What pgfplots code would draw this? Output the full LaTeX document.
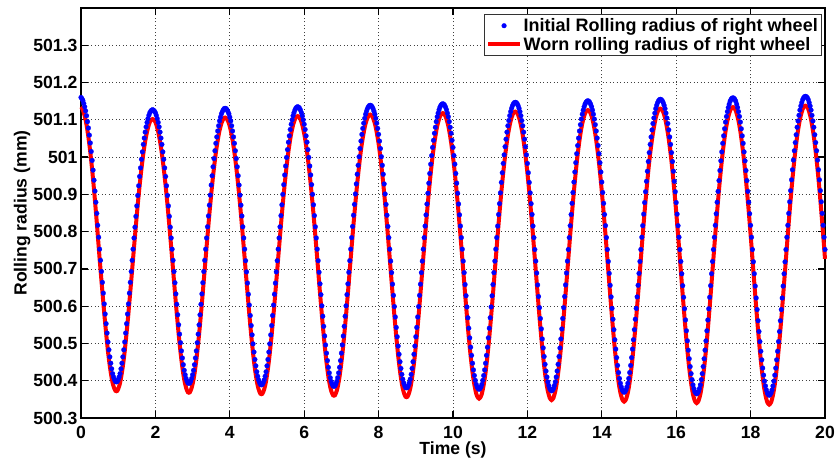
\documentclass[border=0pt]{standalone}
\usepackage{fontspec}
\setmainfont{Liberation Sans}
\usepackage{pgfplots}
\usepackage{pgfplotstable}
\pgfplotsset{compat=1.18}
\newcommand\tickfont{\fontsize{17.6}{21}\selectfont\bfseries}
\newcommand\legfont{\fontsize{18}{21.5}\selectfont\bfseries}

% t = time (s), b = initial radius (mm), r = worn radius (mm)
\pgfplotstableread[row sep=\\]{
t b r\\
0 501.160 501.135\\ 0.025 501.157 501.132\\ 0.05 501.152 501.127\\ 0.075 501.144 501.119\\ 0.1 501.135 501.110\\
0.125 501.124 501.099\\ 0.15 501.111 501.086\\ 0.175 501.095 501.070\\ 0.2 501.078 501.053\\ 0.225 501.059 501.034\\
0.25 501.038 501.013\\ 0.275 501.015 500.990\\ 0.3 500.991 500.966\\ 0.325 500.965 500.940\\ 0.35 500.938 500.913\\
0.375 500.909 500.884\\ 0.4 500.879 500.854\\ 0.425 500.849 500.824\\ 0.45 500.817 500.792\\ 0.475 500.785 500.760\\
0.5 500.753 500.728\\ 0.525 500.723 500.698\\ 0.55 500.693 500.668\\ 0.575 500.664 500.639\\ 0.6 500.635 500.610\\
0.625 500.606 500.581\\ 0.65 500.579 500.554\\ 0.675 500.553 500.528\\ 0.7 500.528 500.503\\ 0.725 500.504 500.479\\
0.75 500.483 500.458\\ 0.775 500.464 500.439\\ 0.8 500.447 500.422\\ 0.825 500.432 500.407\\ 0.85 500.419 500.394\\
0.875 500.410 500.385\\ 0.9 500.403 500.378\\ 0.925 500.398 500.373\\ 0.95 500.397 500.372\\ 0.975 500.398 500.373\\
1.0 500.403 500.378\\ 1.025 500.410 500.385\\ 1.05 500.419 500.394\\ 1.075 500.432 500.407\\ 1.1 500.447 500.422\\
1.125 500.464 500.439\\ 1.15 500.483 500.458\\ 1.175 500.504 500.479\\ 1.2 500.528 500.503\\ 1.225 500.553 500.528\\
1.25 500.579 500.554\\ 1.275 500.606 500.581\\ 1.3 500.635 500.610\\ 1.325 500.664 500.639\\ 1.35 500.693 500.668\\
1.375 500.723 500.698\\ 1.4 500.753 500.728\\
1.425 500.783 500.758\\ 1.45 500.812 500.787\\ 1.475 500.841 500.816\\ 1.5 500.869 500.844\\ 1.525 500.897 500.872\\
1.55 500.923 500.898\\ 1.575 500.948 500.923\\ 1.6 500.971 500.946\\ 1.625 500.994 500.969\\ 1.65 501.014 500.989\\
1.675 501.034 501.009\\ 1.7 501.051 501.026\\ 1.725 501.067 501.042\\ 1.75 501.081 501.056\\ 1.775 501.093 501.068\\
1.8 501.103 501.078\\ 1.825 501.112 501.087\\ 1.85 501.119 501.094\\ 1.875 501.123 501.098\\ 1.9 501.126 501.101\\
1.925 501.127 501.102\\ 1.95 501.126 501.101\\ 1.975 501.123 501.098\\ 2.0 501.119 501.094\\ 2.025 501.112 501.087\\
2.05 501.103 501.078\\ 2.075 501.093 501.068\\ 2.1 501.081 501.056\\ 2.125 501.067 501.042\\ 2.15 501.051 501.026\\
2.175 501.034 501.009\\ 2.2 501.014 500.989\\ 2.225 500.994 500.969\\ 2.25 500.971 500.946\\ 2.275 500.948 500.923\\
2.3 500.923 500.898\\ 2.325 500.897 500.872\\ 2.35 500.869 500.844\\ 2.375 500.841 500.816\\ 2.4 500.812 500.787\\
2.425 500.783 500.758\\
2.45 500.753 500.728\\ 2.475 500.723 500.698\\ 2.5 500.693 500.668\\ 2.525 500.663 500.638\\ 2.55 500.633 500.608\\
2.575 500.605 500.580\\ 2.6 500.577 500.552\\ 2.625 500.550 500.525\\ 2.65 500.525 500.500\\ 2.675 500.502 500.477\\
2.7 500.480 500.455\\ 2.725 500.461 500.436\\ 2.75 500.443 500.418\\ 2.775 500.428 500.403\\ 2.8 500.416 500.391\\
2.825 500.406 500.381\\ 2.85 500.399 500.374\\ 2.875 500.394 500.369\\ 2.9 500.393 500.368\\ 2.925 500.394 500.369\\
2.95 500.399 500.374\\ 2.975 500.406 500.381\\ 3.0 500.416 500.391\\ 3.025 500.428 500.403\\ 3.05 500.443 500.418\\
3.075 500.461 500.436\\ 3.1 500.480 500.455\\ 3.125 500.502 500.477\\ 3.15 500.525 500.500\\ 3.175 500.550 500.525\\
3.2 500.577 500.552\\ 3.225 500.605 500.580\\ 3.25 500.633 500.608\\ 3.275 500.663 500.638\\ 3.3 500.693 500.668\\
3.325 500.723 500.698\\ 3.35 500.753 500.728\\
3.375 500.783 500.758\\ 3.4 500.813 500.788\\ 3.425 500.842 500.817\\ 3.45 500.871 500.846\\ 3.475 500.898 500.873\\
3.5 500.925 500.900\\ 3.525 500.950 500.925\\ 3.55 500.974 500.949\\ 3.575 500.996 500.971\\ 3.6 501.017 500.992\\
3.625 501.037 501.012\\ 3.65 501.054 501.029\\ 3.675 501.070 501.045\\ 3.7 501.084 501.059\\ 3.725 501.097 501.072\\
3.75 501.107 501.082\\ 3.775 501.116 501.091\\ 3.8 501.122 501.097\\ 3.825 501.127 501.102\\ 3.85 501.130 501.105\\
3.875 501.131 501.106\\ 3.9 501.130 501.105\\ 3.925 501.127 501.102\\ 3.95 501.122 501.097\\ 3.975 501.116 501.091\\
4.0 501.107 501.082\\ 4.025 501.097 501.072\\ 4.05 501.084 501.059\\ 4.075 501.070 501.045\\ 4.1 501.054 501.029\\
4.125 501.037 501.012\\ 4.15 501.017 500.992\\ 4.175 500.996 500.971\\ 4.2 500.974 500.949\\ 4.225 500.950 500.925\\
4.25 500.925 500.900\\ 4.275 500.898 500.873\\ 4.3 500.871 500.846\\ 4.325 500.842 500.817\\ 4.35 500.813 500.788\\
4.375 500.783 500.758\\
4.4 500.753 500.728\\ 4.425 500.722 500.697\\ 4.45 500.692 500.667\\ 4.475 500.662 500.637\\ 4.5 500.632 500.607\\
4.525 500.603 500.578\\ 4.55 500.575 500.550\\ 4.575 500.548 500.523\\ 4.6 500.523 500.498\\ 4.625 500.499 500.474\\
4.65 500.477 500.452\\ 4.675 500.457 500.432\\ 4.7 500.440 500.415\\ 4.725 500.424 500.399\\ 4.75 500.412 500.387\\
4.775 500.402 500.377\\ 4.8 500.395 500.370\\ 4.825 500.390 500.365\\ 4.85 500.389 500.364\\ 4.875 500.390 500.365\\
4.9 500.395 500.370\\ 4.925 500.402 500.377\\ 4.95 500.412 500.387\\ 4.975 500.424 500.399\\ 5.0 500.440 500.415\\
5.025 500.457 500.432\\ 5.05 500.477 500.452\\ 5.075 500.499 500.474\\ 5.1 500.523 500.498\\ 5.125 500.548 500.523\\
5.15 500.575 500.550\\ 5.175 500.603 500.578\\ 5.2 500.632 500.607\\ 5.225 500.662 500.637\\ 5.25 500.692 500.667\\
5.275 500.722 500.697\\ 5.3 500.753 500.728\\
5.325 500.783 500.758\\ 5.35 500.813 500.788\\ 5.375 500.843 500.818\\ 5.4 500.872 500.847\\ 5.425 500.900 500.875\\
5.45 500.926 500.901\\ 5.475 500.952 500.927\\ 5.5 500.976 500.951\\ 5.525 500.999 500.974\\ 5.55 501.020 500.995\\
5.575 501.040 501.015\\ 5.6 501.057 501.032\\ 5.625 501.074 501.049\\ 5.65 501.088 501.063\\ 5.675 501.100 501.075\\
5.7 501.111 501.086\\ 5.725 501.119 501.094\\ 5.75 501.126 501.101\\ 5.775 501.131 501.106\\ 5.8 501.134 501.109\\
5.825 501.135 501.110\\ 5.85 501.134 501.109\\ 5.875 501.131 501.106\\ 5.9 501.126 501.101\\ 5.925 501.119 501.094\\
5.95 501.111 501.086\\ 5.975 501.100 501.075\\ 6.0 501.088 501.063\\ 6.025 501.074 501.049\\ 6.05 501.057 501.032\\
6.075 501.040 501.015\\ 6.1 501.020 500.995\\ 6.125 500.999 500.974\\ 6.15 500.976 500.951\\ 6.175 500.952 500.927\\
6.2 500.926 500.901\\ 6.225 500.900 500.875\\ 6.25 500.872 500.847\\ 6.275 500.843 500.818\\ 6.3 500.813 500.788\\
6.325 500.783 500.758\\
6.35 500.753 500.728\\ 6.375 500.722 500.697\\ 6.4 500.691 500.666\\ 6.425 500.660 500.635\\ 6.45 500.631 500.606\\
6.475 500.601 500.576\\ 6.5 500.573 500.548\\ 6.525 500.546 500.521\\ 6.55 500.520 500.495\\ 6.575 500.496 500.471\\
6.6 500.474 500.449\\ 6.625 500.454 500.429\\ 6.65 500.436 500.411\\ 6.675 500.421 500.396\\ 6.7 500.408 500.383\\
6.725 500.398 500.373\\ 6.75 500.391 500.366\\ 6.775 500.386 500.361\\ 6.8 500.385 500.360\\ 6.825 500.386 500.361\\
6.85 500.391 500.366\\ 6.875 500.398 500.373\\ 6.9 500.408 500.383\\ 6.925 500.421 500.396\\ 6.95 500.436 500.411\\
6.975 500.454 500.429\\ 7.0 500.474 500.449\\ 7.025 500.496 500.471\\ 7.05 500.520 500.495\\ 7.075 500.546 500.521\\
7.1 500.573 500.548\\ 7.125 500.601 500.576\\ 7.15 500.631 500.606\\ 7.175 500.660 500.635\\ 7.2 500.691 500.666\\
7.225 500.722 500.697\\ 7.25 500.753 500.728\\
7.275 500.784 500.759\\ 7.3 500.814 500.789\\ 7.325 500.844 500.819\\ 7.35 500.873 500.848\\ 7.375 500.901 500.876\\
7.4 500.928 500.903\\ 7.425 500.954 500.929\\ 7.45 500.978 500.953\\ 7.475 501.001 500.976\\ 7.5 501.023 500.998\\
7.525 501.043 501.018\\ 7.55 501.061 501.036\\ 7.575 501.077 501.052\\ 7.6 501.091 501.066\\ 7.625 501.104 501.079\\
7.65 501.115 501.090\\ 7.675 501.123 501.098\\ 7.7 501.130 501.105\\ 7.725 501.135 501.110\\ 7.75 501.138 501.113\\
7.775 501.139 501.114\\ 7.8 501.138 501.113\\ 7.825 501.135 501.110\\ 7.85 501.130 501.105\\ 7.875 501.123 501.098\\
7.9 501.115 501.090\\ 7.925 501.104 501.079\\ 7.95 501.091 501.066\\ 7.975 501.077 501.052\\ 8.0 501.061 501.036\\
8.025 501.043 501.018\\ 8.05 501.023 500.998\\ 8.075 501.001 500.976\\ 8.1 500.978 500.953\\ 8.125 500.954 500.929\\
8.15 500.928 500.903\\ 8.175 500.901 500.876\\ 8.2 500.873 500.848\\ 8.225 500.844 500.819\\ 8.25 500.814 500.789\\
8.275 500.784 500.759\\
8.3 500.753 500.728\\ 8.325 500.721 500.696\\ 8.35 500.690 500.665\\ 8.375 500.659 500.634\\ 8.4 500.629 500.604\\
8.425 500.599 500.574\\ 8.45 500.571 500.546\\ 8.475 500.543 500.518\\ 8.5 500.518 500.493\\ 8.525 500.493 500.468\\
8.55 500.471 500.446\\ 8.575 500.451 500.426\\ 8.6 500.433 500.408\\ 8.625 500.417 500.392\\ 8.65 500.404 500.379\\
8.675 500.394 500.369\\ 8.7 500.387 500.362\\ 8.725 500.382 500.357\\ 8.75 500.381 500.356\\ 8.775 500.382 500.357\\
8.8 500.387 500.362\\ 8.825 500.394 500.369\\ 8.85 500.404 500.379\\ 8.875 500.417 500.392\\ 8.9 500.433 500.408\\
8.925 500.451 500.426\\ 8.95 500.471 500.446\\ 8.975 500.493 500.468\\ 9.0 500.518 500.493\\ 9.025 500.543 500.518\\
9.05 500.571 500.546\\ 9.075 500.599 500.574\\ 9.1 500.629 500.604\\ 9.125 500.659 500.634\\ 9.15 500.690 500.665\\
9.175 500.721 500.696\\ 9.2 500.753 500.728\\
9.225 500.784 500.759\\ 9.25 500.815 500.790\\ 9.275 500.845 500.820\\ 9.3 500.874 500.849\\ 9.325 500.903 500.878\\
9.35 500.930 500.905\\ 9.375 500.956 500.931\\ 9.4 500.981 500.956\\ 9.425 501.004 500.979\\ 9.45 501.026 501.001\\
9.475 501.045 501.020\\ 9.5 501.064 501.039\\ 9.525 501.080 501.055\\ 9.55 501.095 501.070\\ 9.575 501.108 501.083\\
9.6 501.118 501.093\\ 9.625 501.127 501.102\\ 9.65 501.134 501.109\\ 9.675 501.139 501.114\\ 9.7 501.142 501.117\\
9.725 501.143 501.118\\ 9.75 501.142 501.117\\ 9.775 501.139 501.114\\ 9.8 501.134 501.109\\ 9.825 501.127 501.102\\
9.85 501.118 501.093\\ 9.875 501.108 501.083\\ 9.9 501.095 501.070\\ 9.925 501.080 501.055\\ 9.95 501.064 501.039\\
9.975 501.045 501.020\\ 10.0 501.026 501.001\\ 10.025 501.004 500.979\\ 10.05 500.981 500.956\\ 10.075 500.956 500.931\\
10.1 500.930 500.905\\ 10.125 500.903 500.878\\ 10.15 500.874 500.849\\ 10.175 500.845 500.820\\ 10.2 500.815 500.790\\
10.225 500.784 500.759\\
10.25 500.753 500.728\\ 10.275 500.721 500.696\\ 10.3 500.690 500.665\\ 10.325 500.658 500.633\\ 10.35 500.628 500.603\\
10.375 500.598 500.573\\ 10.4 500.569 500.544\\ 10.425 500.541 500.516\\ 10.45 500.515 500.490\\ 10.475 500.490 500.465\\
10.5 500.468 500.443\\ 10.525 500.447 500.422\\ 10.55 500.429 500.404\\ 10.575 500.414 500.389\\ 10.6 500.401 500.376\\
10.625 500.390 500.365\\ 10.65 500.383 500.358\\ 10.675 500.379 500.354\\ 10.7 500.377 500.352\\ 10.725 500.379 500.354\\
10.75 500.383 500.358\\ 10.775 500.390 500.365\\ 10.8 500.401 500.376\\ 10.825 500.414 500.389\\ 10.85 500.429 500.404\\
10.875 500.447 500.422\\ 10.9 500.468 500.443\\ 10.925 500.490 500.465\\ 10.95 500.515 500.490\\ 10.975 500.541 500.516\\
11.0 500.569 500.544\\ 11.025 500.598 500.573\\ 11.05 500.628 500.603\\ 11.075 500.658 500.633\\ 11.1 500.690 500.665\\
11.125 500.721 500.696\\ 11.15 500.753 500.728\\
11.175 500.784 500.759\\ 11.2 500.815 500.790\\ 11.225 500.846 500.821\\ 11.25 500.875 500.850\\ 11.275 500.904 500.879\\
11.3 500.932 500.907\\ 11.325 500.958 500.933\\ 11.35 500.983 500.958\\ 11.375 501.006 500.981\\ 11.4 501.028 501.003\\
11.425 501.048 501.023\\ 11.45 501.067 501.042\\ 11.475 501.084 501.059\\ 11.5 501.098 501.073\\ 11.525 501.111 501.086\\
11.55 501.122 501.097\\ 11.575 501.131 501.106\\ 11.6 501.138 501.113\\ 11.625 501.143 501.118\\ 11.65 501.146 501.121\\
11.675 501.147 501.122\\ 11.7 501.146 501.121\\ 11.725 501.143 501.118\\ 11.75 501.138 501.113\\ 11.775 501.131 501.106\\
11.8 501.122 501.097\\ 11.825 501.111 501.086\\ 11.85 501.098 501.073\\ 11.875 501.084 501.059\\ 11.9 501.067 501.042\\
11.925 501.048 501.023\\ 11.95 501.028 501.003\\ 11.975 501.006 500.981\\ 12.0 500.983 500.958\\ 12.025 500.958 500.933\\
12.05 500.932 500.907\\ 12.075 500.904 500.879\\ 12.1 500.875 500.850\\ 12.125 500.846 500.821\\ 12.15 500.815 500.790\\
12.175 500.784 500.759\\
12.2 500.752 500.727\\ 12.225 500.721 500.696\\ 12.25 500.689 500.664\\ 12.275 500.657 500.632\\ 12.3 500.626 500.601\\
12.325 500.596 500.571\\ 12.35 500.567 500.542\\ 12.375 500.539 500.514\\ 12.4 500.512 500.487\\ 12.425 500.488 500.463\\
12.45 500.465 500.440\\ 12.475 500.444 500.419\\ 12.5 500.426 500.401\\ 12.525 500.410 500.385\\ 12.55 500.397 500.372\\
12.575 500.387 500.362\\ 12.6 500.379 500.354\\ 12.625 500.375 500.350\\ 12.65 500.373 500.348\\ 12.675 500.375 500.350\\
12.7 500.379 500.354\\ 12.725 500.387 500.362\\ 12.75 500.397 500.372\\ 12.775 500.410 500.385\\ 12.8 500.426 500.401\\
12.825 500.444 500.419\\ 12.85 500.465 500.440\\ 12.875 500.488 500.463\\ 12.9 500.512 500.487\\ 12.925 500.539 500.514\\
12.95 500.567 500.542\\ 12.975 500.596 500.571\\ 13.0 500.626 500.601\\ 13.025 500.657 500.632\\ 13.05 500.689 500.664\\
13.075 500.721 500.696\\ 13.1 500.752 500.727\\
13.125 500.784 500.759\\ 13.15 500.816 500.791\\ 13.175 500.846 500.821\\ 13.2 500.876 500.851\\ 13.225 500.905 500.880\\
13.25 500.933 500.908\\ 13.275 500.960 500.935\\ 13.3 500.985 500.960\\ 13.325 501.009 500.984\\ 13.35 501.031 501.006\\
13.375 501.051 501.026\\ 13.4 501.070 501.045\\ 13.425 501.087 501.062\\ 13.45 501.102 501.077\\ 13.475 501.115 501.090\\
13.5 501.126 501.101\\ 13.525 501.135 501.110\\ 13.55 501.142 501.117\\ 13.575 501.147 501.122\\ 13.6 501.150 501.125\\
13.625 501.151 501.126\\ 13.65 501.150 501.125\\ 13.675 501.147 501.122\\ 13.7 501.142 501.117\\ 13.725 501.135 501.110\\
13.75 501.126 501.101\\ 13.775 501.115 501.090\\ 13.8 501.102 501.077\\ 13.825 501.087 501.062\\ 13.85 501.070 501.045\\
13.875 501.051 501.026\\ 13.9 501.031 501.006\\ 13.925 501.009 500.984\\ 13.95 500.985 500.960\\ 13.975 500.960 500.935\\
14.0 500.933 500.908\\ 14.025 500.905 500.880\\ 14.05 500.876 500.851\\ 14.075 500.846 500.821\\ 14.1 500.816 500.791\\
14.125 500.784 500.759\\
14.15 500.752 500.727\\ 14.175 500.720 500.695\\ 14.2 500.688 500.663\\ 14.225 500.656 500.631\\ 14.25 500.625 500.600\\
14.275 500.594 500.569\\ 14.3 500.565 500.540\\ 14.325 500.537 500.512\\ 14.35 500.510 500.485\\ 14.375 500.485 500.460\\
14.4 500.462 500.437\\ 14.425 500.441 500.416\\ 14.45 500.422 500.397\\ 14.475 500.406 500.381\\ 14.5 500.393 500.368\\
14.525 500.383 500.358\\ 14.55 500.375 500.350\\ 14.575 500.371 500.346\\ 14.6 500.369 500.344\\ 14.625 500.371 500.346\\
14.65 500.375 500.350\\ 14.675 500.383 500.358\\ 14.7 500.393 500.368\\ 14.725 500.406 500.381\\ 14.75 500.422 500.397\\
14.775 500.441 500.416\\ 14.8 500.462 500.437\\ 14.825 500.485 500.460\\ 14.85 500.510 500.485\\ 14.875 500.537 500.512\\
14.9 500.565 500.540\\ 14.925 500.594 500.569\\ 14.95 500.625 500.600\\ 14.975 500.656 500.631\\ 15.0 500.688 500.663\\
15.025 500.720 500.695\\ 15.05 500.752 500.727\\
15.075 500.785 500.760\\ 15.1 500.816 500.791\\ 15.125 500.847 500.822\\ 15.15 500.878 500.853\\ 15.175 500.907 500.882\\
15.2 500.935 500.910\\ 15.225 500.962 500.937\\ 15.25 500.988 500.963\\ 15.275 501.012 500.987\\ 15.3 501.034 501.009\\
15.325 501.054 501.029\\ 15.35 501.073 501.048\\ 15.375 501.090 501.065\\ 15.4 501.105 501.080\\ 15.425 501.118 501.093\\
15.45 501.130 501.105\\ 15.475 501.139 501.114\\ 15.5 501.146 501.121\\ 15.525 501.151 501.126\\ 15.55 501.154 501.129\\
15.575 501.155 501.130\\ 15.6 501.154 501.129\\ 15.625 501.151 501.126\\ 15.65 501.146 501.121\\ 15.675 501.139 501.114\\
15.7 501.130 501.105\\ 15.725 501.118 501.093\\ 15.75 501.105 501.080\\ 15.775 501.090 501.065\\ 15.8 501.073 501.048\\
15.825 501.054 501.029\\ 15.85 501.034 501.009\\ 15.875 501.012 500.987\\ 15.9 500.988 500.963\\ 15.925 500.962 500.937\\
15.95 500.935 500.910\\ 15.975 500.907 500.882\\ 16.0 500.878 500.853\\ 16.025 500.847 500.822\\ 16.05 500.816 500.791\\
16.075 500.785 500.760\\
16.1 500.752 500.727\\ 16.125 500.720 500.695\\ 16.15 500.687 500.662\\ 16.175 500.655 500.630\\ 16.2 500.624 500.599\\
16.225 500.593 500.568\\ 16.25 500.563 500.538\\ 16.275 500.534 500.509\\ 16.3 500.507 500.482\\ 16.325 500.482 500.457\\
16.35 500.459 500.434\\ 16.375 500.438 500.413\\ 16.4 500.419 500.394\\ 16.425 500.403 500.378\\ 16.45 500.389 500.364\\
16.475 500.379 500.354\\ 16.5 500.371 500.346\\ 16.525 500.367 500.342\\ 16.55 500.365 500.340\\ 16.575 500.367 500.342\\
16.6 500.371 500.346\\ 16.625 500.379 500.354\\ 16.65 500.389 500.364\\ 16.675 500.403 500.378\\ 16.7 500.419 500.394\\
16.725 500.438 500.413\\ 16.75 500.459 500.434\\ 16.775 500.482 500.457\\ 16.8 500.507 500.482\\ 16.825 500.534 500.509\\
16.85 500.563 500.538\\ 16.875 500.593 500.568\\ 16.9 500.624 500.599\\ 16.925 500.655 500.630\\ 16.95 500.687 500.662\\
16.975 500.720 500.695\\ 17.0 500.752 500.727\\
17.025 500.785 500.760\\ 17.05 500.817 500.792\\ 17.075 500.848 500.823\\ 17.1 500.879 500.854\\ 17.125 500.908 500.883\\
17.15 500.937 500.912\\ 17.175 500.964 500.939\\ 17.2 500.990 500.965\\ 17.225 501.014 500.989\\ 17.25 501.037 501.012\\
17.275 501.057 501.032\\ 17.3 501.076 501.051\\ 17.325 501.094 501.069\\ 17.35 501.109 501.084\\ 17.375 501.122 501.097\\
17.4 501.133 501.108\\ 17.425 501.142 501.117\\ 17.45 501.150 501.125\\ 17.475 501.155 501.130\\ 17.5 501.158 501.133\\
17.525 501.159 501.134\\ 17.55 501.158 501.133\\ 17.575 501.155 501.130\\ 17.6 501.150 501.125\\ 17.625 501.142 501.117\\
17.65 501.133 501.108\\ 17.675 501.122 501.097\\ 17.7 501.109 501.084\\ 17.725 501.094 501.069\\ 17.75 501.076 501.051\\
17.775 501.057 501.032\\ 17.8 501.037 501.012\\ 17.825 501.014 500.989\\ 17.85 500.990 500.965\\ 17.875 500.964 500.939\\
17.9 500.937 500.912\\ 17.925 500.908 500.883\\ 17.95 500.879 500.854\\ 17.975 500.848 500.823\\ 18.0 500.817 500.792\\
18.025 500.785 500.760\\
18.05 500.752 500.727\\ 18.075 500.719 500.694\\ 18.1 500.687 500.662\\ 18.125 500.654 500.629\\ 18.15 500.622 500.597\\
18.175 500.591 500.566\\ 18.2 500.561 500.536\\ 18.225 500.532 500.507\\ 18.25 500.505 500.480\\ 18.275 500.479 500.454\\
18.3 500.456 500.431\\ 18.325 500.434 500.409\\ 18.35 500.415 500.390\\ 18.375 500.399 500.374\\ 18.4 500.386 500.361\\
18.425 500.375 500.350\\ 18.45 500.367 500.342\\ 18.475 500.363 500.338\\ 18.5 500.361 500.336\\ 18.525 500.363 500.338\\
18.55 500.367 500.342\\ 18.575 500.375 500.350\\ 18.6 500.386 500.361\\ 18.625 500.399 500.374\\ 18.65 500.415 500.390\\
18.675 500.434 500.409\\ 18.7 500.456 500.431\\ 18.725 500.479 500.454\\ 18.75 500.505 500.480\\ 18.775 500.532 500.507\\
18.8 500.561 500.536\\ 18.825 500.591 500.566\\ 18.85 500.622 500.597\\ 18.875 500.654 500.629\\ 18.9 500.687 500.662\\
18.925 500.719 500.694\\ 18.95 500.752 500.727\\
18.975 500.785 500.760\\ 19.0 500.817 500.792\\ 19.025 500.849 500.824\\ 19.05 500.880 500.855\\ 19.075 500.910 500.885\\
19.1 500.939 500.914\\ 19.125 500.966 500.941\\ 19.15 500.992 500.967\\ 19.175 501.017 500.992\\ 19.2 501.039 501.014\\
19.225 501.060 501.035\\ 19.25 501.080 501.055\\ 19.275 501.097 501.072\\ 19.3 501.112 501.087\\ 19.325 501.126 501.101\\
19.35 501.137 501.112\\ 19.375 501.146 501.121\\ 19.4 501.154 501.129\\ 19.425 501.159 501.134\\ 19.45 501.162 501.137\\
19.475 501.163 501.138\\ 19.5 501.162 501.137\\ 19.525 501.159 501.134\\ 19.55 501.154 501.129\\ 19.575 501.146 501.121\\
19.6 501.137 501.112\\ 19.625 501.126 501.101\\ 19.65 501.112 501.087\\ 19.675 501.097 501.072\\ 19.7 501.080 501.055\\
19.725 501.060 501.035\\ 19.75 501.039 501.014\\ 19.775 501.017 500.992\\ 19.8 500.992 500.967\\ 19.825 500.966 500.941\\
19.85 500.939 500.914\\ 19.875 500.910 500.885\\ 19.9 500.880 500.855\\ 19.925 500.849 500.824\\ 19.95 500.817 500.792\\
19.975 500.785 500.760\\ 20.0 500.752 500.727\\
}\radiusdata

\begin{document}
\begin{tikzpicture}
\useasboundingbox (-81pt,-46pt) rectangle (756pt,418pt);
\begin{axis}[
    at={(0,0)}, anchor=south west,
    scale only axis,
    width=744pt, height=410pt,
    xmin=0, xmax=20,
    ymin=500.3, ymax=501.4,
    xtick={0,2,4,6,8,10,12,14,16,18,20},
    ytick={500.3,500.4,500.5,500.6,500.7,500.8,500.9,501,501.1,501.2,501.3},
    yticklabels={500.3,500.4,500.5,500.6,500.7,500.8,500.9,501,501.1,501.2,501.3},
    scaled y ticks=false,
    tick pos=both, tick align=inside,
    major tick length=7pt,
    every tick/.style={black, line width=1.2pt},
    axis line style={black, line width=2.4pt},
    grid=major,
    major grid style={black!75, line width=0.8pt, dash pattern=on 1pt off 2.5pt},
    /pgf/number format/assume math mode=true,
    ticklabel style={font=\tickfont},
    xticklabel style={anchor=base, yshift=-20pt},
    xlabel={Time (s)},
    ylabel={Rolling radius (mm)},
    label style={font=\tickfont},
    xlabel style={at={(axis description cs:0.5,-0.078)}, anchor=center},
    ylabel style={at={(axis description cs:-0.0793,0.5)}, anchor=center},
    legend style={at={(0.996,0.985)}, anchor=north east, font=\legfont,
        draw=black!80, line width=0.6pt, inner sep=2pt},
    legend cell align=left,
    legend image code/.code={\draw[mark repeat=2,mark phase=2,#1] plot coordinates {(0cm,0cm) (0.55cm,0cm) (1.1cm,0cm)};},
    clip=false,
]
\addplot[only marks, mark=*, mark size=2.4pt, color=blue, mark options={fill=blue, draw=blue, line width=0.2pt}]
    table[x=t, y=b] {\radiusdata};
\addplot[color=red, line width=4pt] table[x=t, y=r] {\radiusdata};
\legend{Initial Rolling radius of right wheel, Worn rolling radius of right wheel}
\end{axis}
\end{tikzpicture}
\end{document}
